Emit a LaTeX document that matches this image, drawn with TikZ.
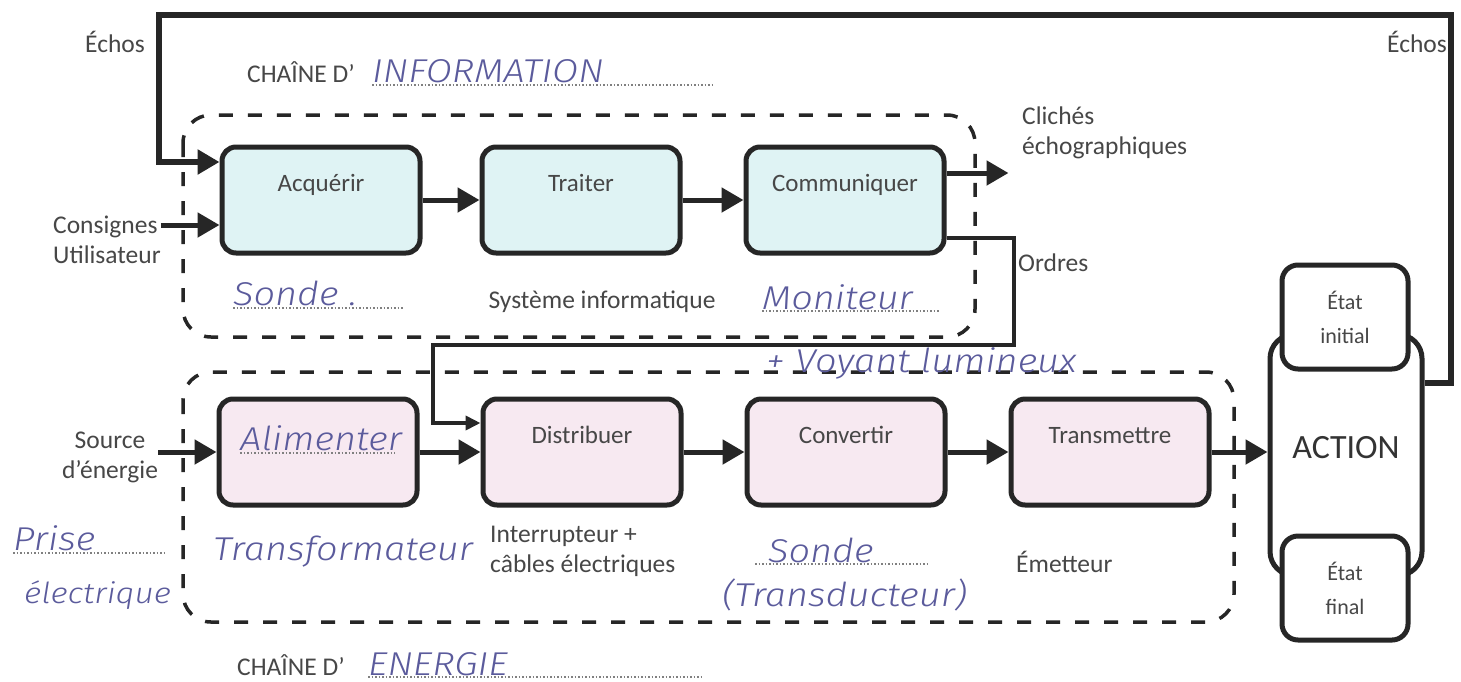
\documentclass[tikz,border=0pt]{standalone}
\usepackage{fontspec}
\setmainfont{Carlito}
\newfontfamily\handfont{Fira Sans Light Italic}[FakeStretch=1.15]
\usetikzlibrary{arrows.meta}

\definecolor{infofill}{HTML}{DFF3F4}
\definecolor{energyfill}{HTML}{F7E9F1}
\definecolor{ink}{HTML}{5B5B9C}
\definecolor{printgray}{HTML}{474747}

\begin{document}
\begin{tikzpicture}[x=1pt,y=-1pt,
  fn/.style={draw=black!85,line width=5pt,rounded corners=14pt,minimum width=198pt,
    text height=42pt,text depth=60pt,inner ysep=2pt,text=printgray,font=\fontsize{25}{28}\selectfont},
  info/.style={fn,fill=infofill},
  energy/.style={fn,fill=energyfill},
  actbox/.style={draw=black!85,line width=5pt,rounded corners=24pt,minimum width=152pt,
    minimum height=241pt,text depth=16pt,text=black!80,font=\fontsize{34}{36}\selectfont},
  etat/.style={draw=black!85,line width=5pt,rounded corners=16pt,fill=white,minimum width=126pt,
    minimum height=104pt,align=center,text=printgray,font=\fontsize{22}{34}\selectfont},
  chainbox/.style={black!85,line width=3.5pt,dash pattern=on 14pt off 15pt,rounded corners=28pt},
  txt/.style={text=printgray,font=\fontsize{25.5}{30}\selectfont,inner sep=0pt},
  hand/.style={text=ink,font=\handfont\fontsize{33}{36}\selectfont,inner sep=0pt},
  dots/.style={gray,line width=1.2pt,dash pattern=on 1.5pt off 2pt},
  arr/.style={black!85,line width=5pt,-{Triangle[length=22pt,width=24pt]}},
  thinarr/.style={black!85,line width=4pt,-{Triangle[length=15pt,width=14pt]}},
  echoline/.style={black!85,line width=6.5pt,-{Triangle[length=22pt,width=24pt]}}]
\useasboundingbox[fill=white] (0,0) rectangle (1461,681);

% chaîne d'information
\draw[chainbox] (183,115) rectangle (975,337);
\node[info] (acq) at (321,200) {Acquérir};
\node[info] (tra) at (581,200) {Traiter};
\node[info] (com) at (845,200) {Communiquer};

% chaîne d'énergie
\draw[chainbox] (183,372) rectangle (1234,622);
\node[energy] (ali) at (318,452) {};
\node[energy] (dis) at (582,452) {Distribuer};
\node[energy] (con) at (846,452) {Convertir};
\node[energy] (trm) at (1110,452) {Transmettre};

% action et états
\node[actbox] (act) at (1346,455) {ACTION};
\node[etat] (ini) at (1345,317) {État\\initial};
\node[etat] (fin) at (1345,588) {État\\final};

% entrées / sorties
\node[txt] (echoA) at (115,42) {Échos};
\node[txt] (echoB) at (1417,42) {Échos};
\node[txt,align=left,anchor=west] (cons) at (53,240) {Consignes\\Utilisateur};
\node[txt,align=center] (src) at (110,457) {Source\\d'énergie};
\node[txt,align=left,anchor=west] (cli) at (1022,133) {Clichés\\échographiques};
\node[txt,anchor=west] (ord) at (1018,263) {Ordres};

% titres des chaînes
\node[txt,anchor=base west] (infoTitle) at (247,82) {CHAÎNE D'};
\node[hand,anchor=base west] (infoName) at (372,82) {INFORMATION};
\draw[dots] ([yshift=-3pt]infoName.base west) -- ++(343,0);
\node[txt,anchor=base west] (enTitle) at (237,675) {CHAÎNE D'};
\node[hand,anchor=base west] (enName) at (368,675) {ENERGIE};
\draw[dots] ([yshift=-2pt]enName.base west) -- ++(335,0);

% solutions techniques
\node[hand,anchor=base west] (sondeA) at (233,305) {Sonde .};
\draw[dots] ([yshift=-3pt]sondeA.base west) -- ++(170,0);
\node[txt,anchor=base] (sysinfo) at (602,308) {Système informatique};
\node[hand,anchor=base west] (moni) at (762,309) {Moniteur};
\draw[dots] ([yshift=-2pt]moni.base west) -- ++(177,0);
\node[hand,anchor=base west] (voy) at (766,372) {+ Voyant lumineux};
\node[hand,anchor=base west] (aliTxt) at (240,450) {Alimenter};
\draw[dots] ([yshift=-3pt]aliTxt.base west) -- ++(155,0);
\node[hand,anchor=base west] (trf) at (213,560) {Transformateur};
\node[txt,align=left,anchor=west] (intr) at (490,551) {Interrupteur +\\câbles électriques};
\node[hand,anchor=base west] (sondeB) at (768,562) {Sonde};
\draw[dots] ([yshift=-2pt,xshift=-13pt]sondeB.base west) -- ++(172,0);
\node[hand,anchor=base west] (trd) at (722,606) {(Transducteur)};
\node[txt,anchor=base west] (emt) at (1016,572) {Émetteur};
\node[hand,anchor=base west] (prise) at (13,550) {Prise};
\draw[dots] ([yshift=-3pt]prise.base west) -- ++(152,0);
\node[hand,anchor=base west,font=\handfont\fontsize{29}{32}\selectfont] (elec) at (24,603) {électrique};

% flux
\coordinate (echoTL) at (159,15);
\coordinate (echoTR) at (1451,15);
\draw[echoline] ([yshift=72pt]act.east) -| (echoTR) -- (echoTL) |- ([yshift=38pt]acq.west);
\draw[arr] ([yshift=-25pt]acq.west -| cons.east) -- ([yshift=-25pt]acq.west);
\draw[arr] (acq) -- (tra);
\draw[arr] (tra) -- (com);
\draw[arr] ([yshift=27pt]com.east) -- ++(62,0);
\coordinate (ordR) at (1014,345);
\coordinate (ordL) at (433,345);
\draw[thinarr] ([yshift=-38pt]com.east) -| (ordR) -- (ordL) |- ([yshift=29pt]dis.west);
\draw[arr] (ali.west -| src.east) -- (ali.west);
\draw[arr] (ali) -- (dis);
\draw[arr] (dis) -- (con);
\draw[arr] (con) -- (trm);
\draw[arr] (trm.east) -- (trm.east -| act.west);
\end{tikzpicture}
\end{document}
